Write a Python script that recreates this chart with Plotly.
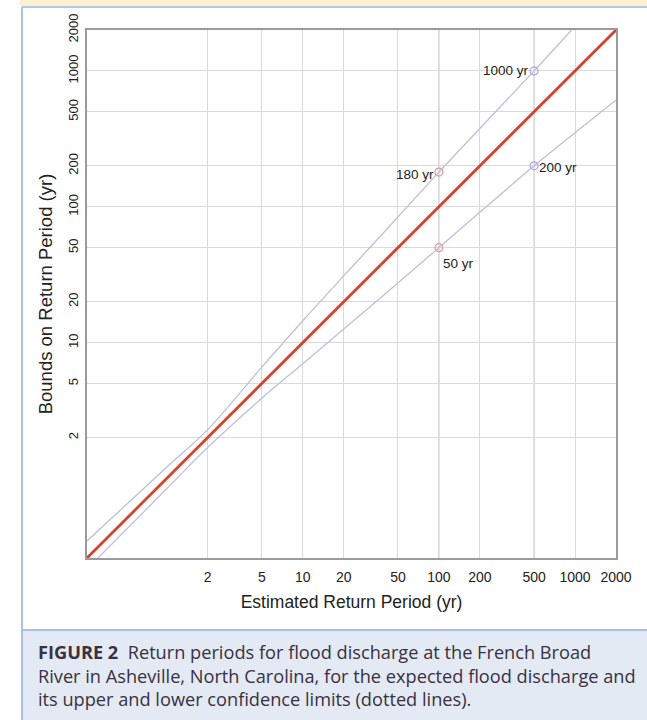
import numpy as np
import plotly.graph_objects as go

# ---- data ----
tick_vals = [2, 5, 10, 20, 50, 100, 200, 500, 1000, 2000]
tick_text = ["2", "5", "10", "20", "50", "100", "200", "500", "1000", "2000"]

expected_x = [0.26, 2000]
expected_y = [0.26, 2000]

upper_x = [0.26, 1, 2, 5, 10, 20, 50, 100, 200, 500, 942]
upper_y = [0.347, 1.21, 2.29, 6.6, 14.5, 31, 84, 180, 377, 1000, 2000]

lower_x = [0.313, 1, 2, 5, 10, 20, 50, 100, 200, 500, 1000, 2000]
lower_y = [0.26, 0.84, 1.69, 3.9, 7.0, 12.6, 27.5, 50, 91, 200, 350, 611]

mark_x = [100, 100, 500, 500]
mark_y = [180, 50, 1000, 200]
mark_text = ["180 yr", "50 yr", "1000 yr", "200 yr"]
mark_color = ["#e49a9a", "#e49a9a", "#a9a9dc", "#a9a9dc"]

AX_RANGE = [-0.585, 3.301]

# plot-area geometry in pixels (for paper-coord conversion of decoration)
W, H = 647, 720
L, R, T, B = 87, 616, 30, 558
def px(x):
    return (x - L) / (R - L)
def py(y):
    return (B - y) / (B - T)

FONT = "Liberation Sans, Arial"

fig = go.Figure()

fig.add_trace(go.Scatter(x=upper_x, y=upper_y, mode="lines",
                         line=dict(color="#bebedd", width=1.3, shape="spline"),
                         hoverinfo="skip", showlegend=False))
fig.add_trace(go.Scatter(x=lower_x, y=lower_y, mode="lines",
                         line=dict(color="#bebedd", width=1.3, shape="spline"),
                         hoverinfo="skip", showlegend=False))
fig.add_trace(go.Scatter(x=expected_x, y=expected_y, mode="lines",
                         line=dict(color="#d8412c", width=2.8),
                         hoverinfo="skip", showlegend=False))
fig.add_trace(go.Scatter(x=mark_x, y=mark_y, mode="markers",
                         marker=dict(symbol="circle-open", size=8,
                                     color=mark_color, line=dict(width=1.2)),
                         hoverinfo="skip", showlegend=False))

# marker labels
lab_pos = {
    "180 yr": dict(xanchor="right", yanchor="middle", xshift=-3, yshift=-2),
    "50 yr": dict(xanchor="left", yanchor="top", xshift=2, yshift=-6),
    "1000 yr": dict(xanchor="right", yanchor="middle", xshift=-3, yshift=0),
    "200 yr": dict(xanchor="left", yanchor="middle", xshift=3, yshift=-2),
}
for xv, yv, t in zip(mark_x, mark_y, mark_text):
    fig.add_annotation(x=np.log10(xv), y=np.log10(yv), text=t, showarrow=False,
                       font=dict(family=FONT, size=13.5, color="#222222"),
                       **lab_pos[t])

shapes = []
# coloured vertical grid lines at 100 and 500
shapes.append(dict(type="line", xref="x", yref="paper", x0=100, x1=100,
                   y0=0, y1=1, line=dict(color="#f2b7ad", width=1.2), layer="below"))
shapes.append(dict(type="line", xref="x", yref="paper", x0=500, x1=500,
                   y0=0, y1=1, line=dict(color="#c9c9e6", width=1.2), layer="below"))
# page decoration: yellow strip, panel borders, caption box
shapes.append(dict(type="rect", xref="paper", yref="paper", x0=px(20), x1=px(W + 2),
                   y0=py(0), y1=py(6), fillcolor="#fbf1d2", line=dict(width=0), layer="below"))
shapes.append(dict(type="line", xref="paper", yref="paper", x0=px(22), x1=px(W + 2),
                   y0=py(7), y1=py(7), line=dict(color="#b3c8e4", width=2), layer="below"))
shapes.append(dict(type="rect", xref="paper", yref="paper", x0=px(22), x1=px(W + 2),
                   y0=py(630), y1=py(H + 2), fillcolor="#e3eaf4", line=dict(width=0), layer="below"))
shapes.append(dict(type="line", xref="paper", yref="paper", x0=px(22), x1=px(W + 2),
                   y0=py(630), y1=py(630), line=dict(color="#a9c2e2", width=2), layer="below"))
shapes.append(dict(type="line", xref="paper", yref="paper", x0=px(22), x1=px(22),
                   y0=py(7), y1=py(H + 2), line=dict(color="#a9c2e2", width=2), layer="below"))

# caption
fig.add_annotation(xref="paper", yref="paper", x=px(36), y=py(638), xanchor="left", yanchor="top",
                   align="left", showarrow=False,
                   text=("<b>FIGURE 2</b>  Return periods for flood discharge at the French Broad<br>"
                         "River in Asheville, North Carolina, for the expected flood discharge and<br>"
                         "its upper and lower confidence limits (dotted lines)."),
                   font=dict(family="Open Sans", size=18.2, color="#3a3042"))

axis_common = dict(type="log", range=AX_RANGE, tickvals=tick_vals, ticktext=tick_text,
                   showgrid=True, gridcolor="#dadada", gridwidth=1,
                   showline=True, linecolor="#9a9a9a", linewidth=1.8, mirror=True,
                   zeroline=False, ticks="")

fig.update_layout(
    width=W, height=H,
    margin=dict(l=L, r=W - R, t=T, b=H - B),
    paper_bgcolor="white", plot_bgcolor="white",
    shapes=shapes,
    xaxis=dict(**axis_common, ticklabelstandoff=5,
               tickfont=dict(family=FONT, size=14, color="#222222"),
               title=dict(text="Estimated Return Period (yr)", standoff=12,
                          font=dict(family=FONT, size=17.5, color="#222222"))),
    yaxis=dict(**axis_common, tickangle=-90, ticklabelstandoff=2,
               tickfont=dict(family=FONT, size=13, color="#222222"),
               title=dict(text="Bounds on Return Period (yr)", standoff=8,
                          font=dict(family=FONT, size=18.5, color="#222222"))),
)

fig.write_html("out.html", config={"displayModeBar": False},
               post_script="document.body.style.margin='0';document.body.style.overflow='hidden';")
